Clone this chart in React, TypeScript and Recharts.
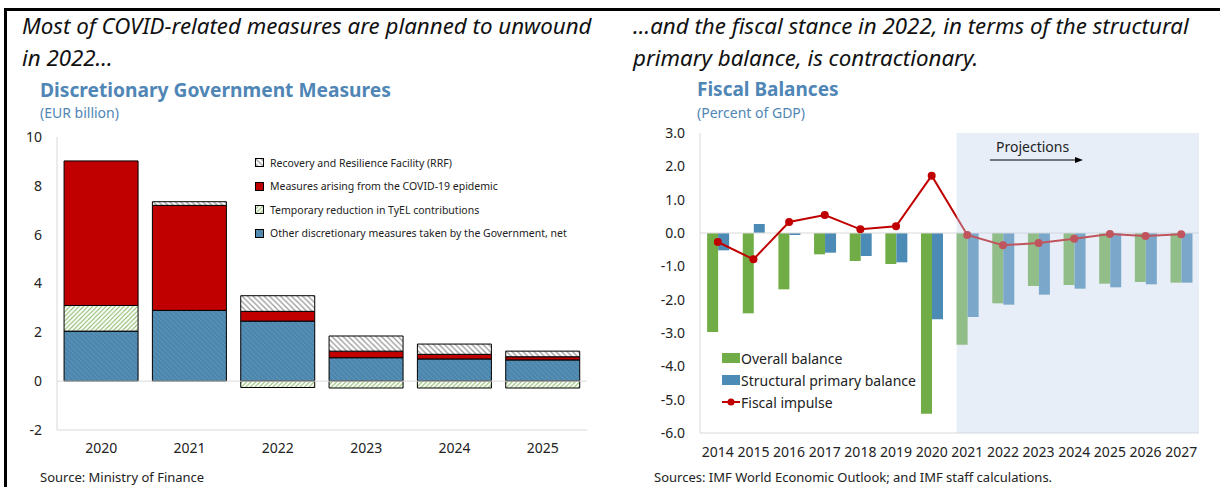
import React from 'react';
import { BarChart, ComposedChart, Bar, Line, XAxis, YAxis, ReferenceLine, ReferenceArea, Legend } from 'recharts';

// left panel: discretionary government measures (EUR billion)
const measureYears = ['2020', '2021', '2022', '2023', '2024', '2025'];
const otherMeasures = [2.05, 2.9, 2.46, 0.96, 0.91, 0.87];
const tyelReduction = [1.05, 0, -0.26, -0.28, -0.28, -0.28];
const covidMeasures = [5.92, 4.3, 0.4, 0.27, 0.19, 0.13];
const rrfMeasures = [0, 0.15, 0.64, 0.62, 0.42, 0.23];
const measureTicks = [-2, 0, 2, 4, 6, 8, 10];

// right panel: fiscal balances (percent of GDP)
const balanceYears = ['2014', '2015', '2016', '2017', '2018', '2019', '2020', '2021', '2022', '2023', '2024', '2025', '2026', '2027'];
const overallBalance = [-2.97, -2.41, -1.69, -0.64, -0.84, -0.93, -5.42, -3.35, -2.11, -1.59, -1.56, -1.52, -1.47, -1.49];
const structuralPrimary = [-0.52, 0.27, -0.06, -0.59, -0.69, -0.88, -2.59, -2.52, -2.15, -1.85, -1.67, -1.63, -1.54, -1.49];
const fiscalImpulse = [-0.27, -0.79, 0.33, 0.54, 0.11, 0.2, 1.72, -0.06, -0.37, -0.3, -0.17, -0.03, -0.09, -0.04];
const balanceTicks = [-6, -5, -4, -3, -2, -1, 0, 1, 2, 3];
const projectionStart = '2021';

const FONT = '"Noto Sans", "Open Sans", sans-serif';
const TITLE_BLUE = '#4f86b6';
const GRID = '#d9d9d9';

const measureData = measureYears.map((year, i) => ({
  year,
  other: otherMeasures[i],
  tyel: tyelReduction[i],
  covid: covidMeasures[i],
  rrf: rrfMeasures[i],
}));

const balanceData = balanceYears.map((year, i) => ({
  year,
  overall: overallBalance[i],
  structural: structuralPrimary[i],
  impulse: fiscalImpulse[i],
}));

const leftLegend = [
  { label: 'Recovery and Resilience Facility (RRF)', fill: 'url(#hatchGrey)' },
  { label: 'Measures arising from the COVID-19 epidemic', fill: '#c00000' },
  { label: 'Temporary reduction in TyEL contributions', fill: 'url(#hatchGreen)' },
  { label: 'Other discretionary measures taken by the Government, net', fill: 'url(#hatchBlue)' },
];

function LeftLegend() {
  return (
    <div style={{ fontFamily: FONT, fontSize: 10.5, color: '#222' }}>
      {leftLegend.map((it) => (
        <div key={it.label} style={{ display: 'flex', alignItems: 'center', height: 23.5 }}>
          <svg width={9} height={9} style={{ marginRight: 6 }}>
            <rect x={0.5} y={0.5} width={8} height={8} fill={it.fill} stroke="#000" strokeWidth={1} />
          </svg>
          <span>{it.label}</span>
        </div>
      ))}
    </div>
  );
}

function RightLegend() {
  const rows = [
    { label: 'Overall balance', kind: 'bar', color: '#70ad47' },
    { label: 'Structural primary balance', kind: 'bar', color: '#4b8bb5' },
    { label: 'Fiscal impulse', kind: 'line', color: '#c00000' },
  ];
  return (
    <div style={{ fontFamily: FONT, fontSize: 14, color: '#222' }}>
      {rows.map((r) => (
        <div key={r.label} style={{ display: 'flex', alignItems: 'center', height: 22 }}>
          <svg width={18} height={12} style={{ marginRight: 1 }}>
            {r.kind === 'bar' ? (
              <rect x={0} y={1} width={18} height={10} fill={r.color} />
            ) : (
              <g>
                <line x1={0} y1={6} x2={18} y2={6} stroke={r.color} strokeWidth={2} />
                <circle cx={9} cy={6} r={3.5} fill={r.color} />
              </g>
            )}
          </svg>
          <span>{r.label}</span>
        </div>
      ))}
    </div>
  );
}

const projCount = balanceYears.length - balanceYears.indexOf(projectionStart);

function ProjectionShade(props: any) {
  const band = props.width / projCount;
  const off = band * 0.2;
  return (
    <rect x={props.x + off} y={props.y} width={props.width - off} height={props.height} fill="#c3d5ec" fillOpacity={0.4} />
  );
}

export default function App() {
  return (
    <div style={{ position: 'absolute', left: 0, top: 0, width: 1220, height: 487, overflow: 'hidden', background: '#fff', fontFamily: FONT }}>
      {/* frame */}
      <div style={{ position: 'absolute', left: 4, top: 8, width: 1220, height: 490, borderTop: '3px solid #000', borderLeft: '3px solid #000' }} />

      {/* left panel headings */}
      <div style={{ position: 'absolute', left: 22, top: 10, fontSize: 22.3, fontStyle: 'italic', lineHeight: '32px', color: '#111', width: 600, whiteSpace: 'nowrap' }}>
        Most of COVID-related measures are planned to unwound
        <br />
        in 2022…
      </div>
      <div style={{ position: 'absolute', left: 40, top: 76, fontSize: 19.2, fontWeight: 700, color: TITLE_BLUE }}>Discretionary Government Measures</div>
      <div style={{ position: 'absolute', left: 40, top: 103, fontSize: 14, color: TITLE_BLUE }}>(EUR billion)</div>

      <div style={{ position: 'absolute', left: 0, top: 120 }}>
        <BarChart width={600} height={350} data={measureData} stackOffset="sign" barCategoryGap="8%" margin={{ top: 17, right: 13, bottom: 10, left: 17 }}>
          <defs>
            <pattern id="hatchBlue" patternUnits="userSpaceOnUse" width={5} height={5}>
              <rect width={5} height={5} fill="#4e87ad" />
              <path d="M-1,4 l2,2 M0,0 l5,5 M4,-1 l2,2" stroke="#5e96bb" strokeWidth={1} />
            </pattern>
            <pattern id="hatchGreen" patternUnits="userSpaceOnUse" width={4.5} height={4.5}>
              <rect width={4.5} height={4.5} fill="#fff" />
              <path d="M-1,1 l2,-2 M0,4.5 l4.5,-4.5 M3.5,5.5 l2,-2" stroke="#7fb35a" strokeWidth={1} />
            </pattern>
            <pattern id="hatchGrey" patternUnits="userSpaceOnUse" width={5.5} height={5.5}>
              <rect width={5.5} height={5.5} fill="#fff" />
              <path d="M-1,4.5 l2,2 M0,0 l5.5,5.5 M4.5,-1 l2,2" stroke="#9a9a9a" strokeWidth={1.3} />
            </pattern>
          </defs>
          <XAxis dataKey="year" axisLine={{ stroke: GRID }} tickLine={false} tickMargin={7} height={30} tick={{ fontSize: 14, fill: '#222' }} />
          <XAxis xAxisId="top" dataKey="year" orientation="top" height={0} tick={false} tickLine={false} axisLine={{ stroke: GRID }} />
          <YAxis domain={[-2, 10]} ticks={measureTicks} axisLine={{ stroke: GRID }} tickLine={false} tickMargin={9} width={40} tick={{ fontSize: 14, fill: '#222' }} />
          <YAxis yAxisId="right" orientation="right" width={0} tick={false} tickLine={false} axisLine={{ stroke: GRID }} />
          <ReferenceLine y={0} stroke={GRID} />
          <Bar dataKey="other" stackId="m" fill="url(#hatchBlue)" stroke="#000" strokeWidth={1} isAnimationActive={false} />
          <Bar dataKey="tyel" stackId="m" fill="url(#hatchGreen)" stroke="#000" strokeWidth={1} isAnimationActive={false} />
          <Bar dataKey="covid" stackId="m" fill="#c00000" stroke="#000" strokeWidth={1} isAnimationActive={false} />
          <Bar dataKey="rrf" stackId="m" fill="url(#hatchGrey)" stroke="#000" strokeWidth={1} isAnimationActive={false} />
          <Legend layout="vertical" align="center" verticalAlign="middle" wrapperStyle={{ left: 255, top: 31, width: 345 }} content={() => <LeftLegend />} />
        </BarChart>
      </div>

      <div style={{ position: 'absolute', left: 40, top: 470, fontSize: 13, lineHeight: '14px', color: '#222' }}>Source: Ministry of Finance</div>

      {/* right panel headings */}
      <div style={{ position: 'absolute', left: 633, top: 10, fontSize: 22.3, fontStyle: 'italic', lineHeight: '32px', color: '#111', width: 600, whiteSpace: 'nowrap' }}>
        …and the fiscal stance in 2022, in terms of the structural
        <br />
        primary balance, is contractionary.
      </div>
      <div style={{ position: 'absolute', left: 697, top: 76, fontSize: 19, fontWeight: 700, color: TITLE_BLUE }}>Fiscal Balances</div>
      <div style={{ position: 'absolute', left: 697, top: 103, fontSize: 14, color: TITLE_BLUE }}>(Percent of GDP)</div>

      <div style={{ position: 'absolute', left: 620, top: 120 }}>
        <ComposedChart width={600} height={360} data={balanceData} barCategoryGap="20%" barGap={0} margin={{ top: 13, right: 21, bottom: 17, left: 20 }}>
          <XAxis dataKey="year" axisLine={{ stroke: GRID }} tickLine={false} tickMargin={8} height={30} interval={0} tick={{ fontSize: 14, fill: '#222' }} />
          <XAxis xAxisId="top" dataKey="year" orientation="top" height={0} tick={false} tickLine={false} axisLine={{ stroke: GRID }} />
          <YAxis domain={[-6, 3]} ticks={balanceTicks} axisLine={{ stroke: GRID }} tickLine={false} tickMargin={9} width={60} tick={{ fontSize: 14, fill: '#222' }} tickFormatter={(v: number) => v.toFixed(1)} />
          <YAxis yAxisId="right" orientation="right" width={0} tick={false} tickLine={false} axisLine={{ stroke: GRID }} />
          <ReferenceLine y={0} stroke={GRID} />
          <Bar dataKey="overall" name="Overall balance" fill="#70ad47" isAnimationActive={false} />
          <Bar dataKey="structural" name="Structural primary balance" fill="#4b8bb5" isAnimationActive={false} />
          <Line dataKey="impulse" name="Fiscal impulse" stroke="#c00000" strokeWidth={2} dot={{ r: 4, fill: '#c00000', stroke: 'none' }} isAnimationActive={false} />
          <ReferenceArea x1={projectionStart} x2={balanceYears[balanceYears.length - 1]} y1={-6} y2={3} shape={ProjectionShade} zIndex={1000} />
          <Legend layout="vertical" align="center" verticalAlign="middle" wrapperStyle={{ left: 102, top: 227, width: 240 }} content={() => <RightLegend />} />
        </ComposedChart>
      </div>

      <div style={{ position: 'absolute', left: 996, top: 137, fontSize: 14, color: '#222' }}>Projections</div>
      <svg style={{ position: 'absolute', left: 985, top: 154 }} width={100} height={12}>
        <line x1={5} y1={6} x2={92} y2={6} stroke="#000" strokeWidth={1} />
        <path d="M98,6 L90,3 L90,9 Z" fill="#000" />
      </svg>

      <div style={{ position: 'absolute', left: 654, top: 470, fontSize: 13, lineHeight: '14px', color: '#222' }}>Sources: IMF World Economic Outlook; and IMF staff calculations.</div>
    </div>
  );
}
